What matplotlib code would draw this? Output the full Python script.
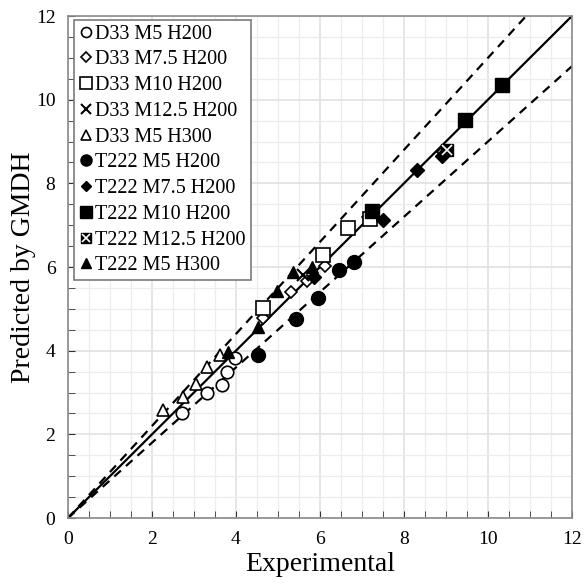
import matplotlib
matplotlib.use('Agg')
import matplotlib.pyplot as plt
from matplotlib.legend_handler import HandlerTuple
import numpy as np

plt.rcParams['font.family'] = ['Liberation Serif', 'DejaVu Serif']

# values (experimental, predicted)
d33_m5_h200_x = [2.71, 3.31, 3.67, 3.79, 3.98]
d33_m5_h200_y = [2.51, 2.99, 3.18, 3.49, 3.83]
d33_m75_h200_x = [4.64, 5.31, 5.69, 6.12, 7.15, 8.92]
d33_m75_h200_y = [4.77, 5.40, 5.66, 6.02, 7.20, 8.75]
d33_m10_h200_x = [4.64, 6.07, 6.66, 7.19]
d33_m10_h200_y = [5.02, 6.28, 6.93, 7.15]
d33_m125_h200_x = [5.60]
d33_m125_h200_y = [5.81]
d33_m5_h300_x = [2.26, 2.74, 3.05, 3.31, 3.62]
d33_m5_h300_y = [2.58, 2.90, 3.20, 3.61, 3.90]
t222_m5_h200_x = [4.53, 5.42, 5.96, 6.46, 6.81]
t222_m5_h200_y = [3.89, 4.76, 5.25, 5.92, 6.12]
t222_m75_h200_x = [5.85, 7.50, 8.31, 8.90]
t222_m75_h200_y = [5.75, 7.12, 8.32, 8.65]
t222_m10_h200_x = [7.24, 9.45, 10.33]
t222_m10_h200_y = [7.33, 9.51, 10.35]
t222_m125_h200_x = [9.02]
t222_m125_h200_y = [8.80]
t222_m5_h300_x = [3.80, 4.52, 4.98, 5.36, 5.82]
t222_m5_h300_y = [3.96, 4.57, 5.43, 5.88, 5.99]

fig = plt.figure(figsize=(5.84, 5.84), dpi=100)
ax = fig.add_axes([0.1164, 0.113, 0.863, 0.8596])

lim = [0, 12]
ax.plot(lim, lim, color='black', lw=1.6, zorder=2)
xx = np.array([0, 12])
ax.plot(xx, xx * 1.1, color='black', lw=1.6, ls=(0, (4, 3)), zorder=2)
ax.plot(xx, xx * 0.9, color='black', lw=1.6, ls=(0, (4, 3)), zorder=2)

kw = dict(ls='none', color='black', zorder=3)
h1, = ax.plot(d33_m5_h200_x, d33_m5_h200_y, marker='o', ms=9, mfc='white', mew=1.2, **kw)
h2, = ax.plot(d33_m75_h200_x, d33_m75_h200_y, marker='D', ms=6, mfc='white', mew=1.2, **kw)
h3, = ax.plot(d33_m10_h200_x, d33_m10_h200_y, marker='s', ms=10, mfc='white', mew=1.2, **kw)
h4, = ax.plot(d33_m125_h200_x, d33_m125_h200_y, marker='x', ms=9, mew=1.5, **kw)
h5, = ax.plot(d33_m5_h300_x, d33_m5_h300_y, marker='^', ms=9, mfc='white', mew=1.2, **kw)
h6, = ax.plot(t222_m5_h200_x, t222_m5_h200_y, marker='o', ms=10, **kw)
h7, = ax.plot(t222_m75_h200_x, t222_m75_h200_y, marker='D', ms=7, **kw)
h8, = ax.plot(t222_m10_h200_x, t222_m10_h200_y, marker='s', ms=10, **kw)
h9a, = ax.plot(t222_m125_h200_x, t222_m125_h200_y, marker='s', ms=9, **kw)
h9b, = ax.plot(t222_m125_h200_x, t222_m125_h200_y, marker='x', ms=7, mew=1.2,
               ls='none', color='white', zorder=4)
h10, = ax.plot(t222_m5_h300_x, t222_m5_h300_y, marker='^', ms=9, **kw)

ax.set_xlim(0, 12)
ax.set_ylim(0, 12)
ax.set_xticks(np.arange(0, 13, 2))
ax.set_yticks(np.arange(0, 13, 2))
ax.set_xticks(np.arange(0, 12.1, 0.5), minor=True)
ax.set_yticks(np.arange(0, 12.1, 0.5), minor=True)
ax.grid(which='major', color='#e2e2e2', lw=1.2, zorder=0)
ax.grid(which='minor', color='#ececec', lw=0.9, zorder=0)
ax.set_axisbelow(True)
ax.tick_params(which='both', direction='in', top=False, right=False, labelsize=14, color='#333333')
ax.tick_params(which='major', length=5, pad=9)
ax.tick_params(which='minor', length=5)
for s in ax.spines.values():
    s.set_color('#8a8a8a')
    s.set_linewidth(1.2)

ax.set_xlabel('Experimental', fontsize=20, labelpad=3)
ax.set_ylabel('Predicted by GMDH', fontsize=20, labelpad=0)

handles = [h1, h2, h3, h4, h5, h6, h7, h8, (h9a, h9b), h10]
labels = ['D33 M5 H200', 'D33 M7.5 H200', 'D33 M10 H200', 'D33 M12.5 H200',
          'D33 M5 H300', 'T222 M5 H200', 'T222 M7.5 H200', 'T222 M10 H200',
          'T222 M12.5 H200', 'T222 M5 H300']
leg = ax.legend(handles, labels, loc='upper left', bbox_to_anchor=(0.012, 0.993),
                fontsize=14.5, handlelength=0.7, handletextpad=0.1, labelspacing=0.33,
                borderpad=0.25, borderaxespad=0, fancybox=False, framealpha=1,
                markerscale=0.8, edgecolor='#7a7a7a',
                handler_map={tuple: HandlerTuple(ndivide=1, pad=0)})
leg.get_frame().set_linewidth(1.2)

fig.savefig('out.png', dpi=100)
